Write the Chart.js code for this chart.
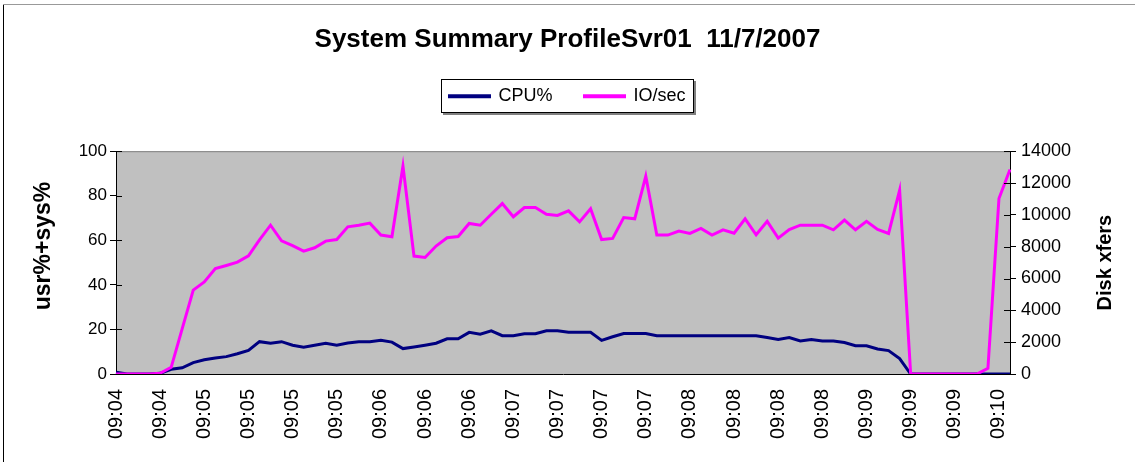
<!DOCTYPE html>
<html>
<head>
<meta charset="utf-8">
<script src="https://cdn.jsdelivr.net/npm/chart.js@4.4.1/dist/chart.umd.min.js"></script>
<style>
  html, body { margin: 0; padding: 0; background: #fff; }
  #caixa { width: 1135px; height: 462px; }
</style>
</head>
<body>
<div id="caixa"><canvas id="grafico"></canvas></div>
<script>
// rotulos do eixo x (um a cada 4 amostras)
const horarios = ['09:04', '09:04', '09:05', '09:05', '09:05', '09:05', '09:06', '09:06', '09:06', '09:07',
  '09:07', '09:07', '09:07', '09:08', '09:08', '09:08', '09:08', '09:09', '09:09', '09:09', '09:10'];

// usr%+sys%
const dadosCpu = [0.8, 0, 0, 0, 0.3, 2.1, 2.8, 5.1, 6.4, 7.2, 7.8, 9.1, 10.6, 14.5, 13.8, 14.5, 12.9, 12.0, 12.9, 13.8,
  12.9, 13.9, 14.5, 14.5, 15.1, 14.3, 11.4, 12.1, 12.9, 13.8, 15.8, 15.8, 18.7, 17.9, 19.4, 17.2, 17.2, 18.1, 18.1, 19.4,
  19.4, 18.7, 18.7, 18.7, 15.1, 16.7, 18.2, 18.2, 18.2, 17.2, 17.2, 17.2, 17.2, 17.2, 17.2, 17.2, 17.2, 17.2, 17.2, 16.4,
  15.5, 16.4, 14.8, 15.5, 14.8, 14.8, 14.1, 12.7, 12.7, 11.2, 10.5, 6.9, 0, 0, 0, 0, 0, 0, 0, 0,
  0, 0];

// Disk xfers
const dadosIo = [0, 0, 0, 0, 50, 420, 2850, 5270, 5780, 6620, 6820, 7030, 7430, 8430, 9350, 8370, 8060, 7720, 7930, 8350,
  8450, 9250, 9350, 9480, 8730, 8620, 13060, 7410, 7320, 8040, 8560, 8640, 9460, 9350, 10040, 10710, 9880, 10460, 10460, 10040,
  9960, 10250, 9560, 10380, 8450, 8520, 9830, 9750, 12430, 8730, 8730, 8980, 8830, 9150, 8730, 9060, 8850, 9750, 8750, 9590,
  8540, 9080, 9350, 9350, 9350, 9060, 9670, 9060, 9590, 9080, 8830, 11550, 0, 0, 0, 0, 0, 0, 0, 360,
  11030, 12850];

const categorias = dadosCpu.map((v, i) => i % 4 === 0 ? horarios[i / 4] : '');

const fonte = "'Liberation Sans', Arial, sans-serif";
Chart.defaults.font.family = fonte;
Chart.defaults.color = '#000';

// espaco extra abaixo da legenda
const espacoLegenda = {
  id: 'espacoLegenda',
  beforeInit(chart) {
    const fitOriginal = chart.legend.fit;
    chart.legend.fit = function () {
      fitOriginal.bind(chart.legend)();
      this.height += 36;
    };
  }
};

function tituloVertical(ctx, texto, x, y, tamanho) {
  ctx.save();
  ctx.translate(x, y);
  ctx.rotate(-Math.PI / 2);
  ctx.font = 'bold ' + tamanho + 'px ' + fonte;
  ctx.fillStyle = '#000';
  ctx.textAlign = 'center';
  ctx.textBaseline = 'middle';
  ctx.fillText(texto, 0, 0);
  ctx.restore();
}

const fundo = {
  id: 'fundo',
  beforeDraw(chart) {
    const { ctx, chartArea: a, legend } = chart;
    ctx.save();
    // moldura externa
    ctx.lineWidth = 1;
    ctx.strokeStyle = '#000';
    ctx.beginPath();
    ctx.moveTo(3.5, 462);
    ctx.lineTo(3.5, 4.5);
    ctx.stroke();
    ctx.strokeStyle = '#999';
    ctx.beginPath();
    ctx.moveTo(3, 4.5);
    ctx.lineTo(1135, 4.5);
    ctx.stroke();

    // area do grafico
    ctx.fillStyle = '#c0c0c0';
    ctx.fillRect(a.left, a.top, a.right - a.left, a.bottom - a.top);
    ctx.strokeStyle = '#808080';
    ctx.beginPath();
    ctx.moveTo(a.left, a.top + 0.5);
    ctx.lineTo(a.right, a.top + 0.5);
    ctx.stroke();

    // caixa da legenda
    const caixas = legend.legendHitBoxes;
    if (caixas.length) {
      const x1 = Math.round(caixas[0].left) - 8;
      const ultima = caixas[caixas.length - 1];
      const x2 = Math.round(ultima.left + ultima.width) + 8;
      const meio = caixas[0].top + caixas[0].height / 2;
      const y1 = Math.round(meio - 17);
      const y2 = Math.round(meio + 17);
      ctx.fillStyle = '#808080';
      ctx.fillRect(x1 + 2, y1 + 2, x2 - x1, y2 - y1);
      ctx.fillStyle = '#fff';
      ctx.fillRect(x1, y1, x2 - x1, y2 - y1);
      ctx.strokeStyle = '#000';
      ctx.strokeRect(x1 + 0.5, y1 + 0.5, x2 - x1 - 1, y2 - y1 - 1);
    }
    ctx.restore();
  },
  afterDraw(chart) {
    const { ctx, chartArea: a, scales } = chart;
    // marcas das escalas cruzando o eixo
    ctx.save();
    ctx.strokeStyle = '#000';
    ctx.lineWidth = 1;
    ctx.beginPath();
    scales.y.ticks.forEach(t => {
      const py = Math.round(scales.y.getPixelForValue(t.value)) + 0.5;
      ctx.moveTo(a.left, py);
      ctx.lineTo(a.left + 6, py);
    });
    scales.y1.ticks.forEach(t => {
      const py = Math.round(scales.y1.getPixelForValue(t.value)) + 0.5;
      ctx.moveTo(a.right - 6, py);
      ctx.lineTo(a.right, py);
    });
    ctx.stroke();
    ctx.restore();

    tituloVertical(ctx, 'usr%+sys%', 44, 246, 23);
    tituloVertical(ctx, 'Disk xfers', 1105, (a.top + a.bottom) / 2, 20);
  }
};

const grafico = new Chart(document.getElementById('grafico'), {
  type: 'line',
  data: {
    labels: categorias,
    datasets: [{
      label: 'CPU%',
      data: dadosCpu,
      borderColor: '#000080',
      backgroundColor: '#000080',
      borderWidth: 3,
      pointRadius: 0,
      tension: 0,
      order: 1,
      yAxisID: 'y'
    }, {
      label: 'IO/sec',
      data: dadosIo,
      borderColor: '#ff00ff',
      backgroundColor: '#ff00ff',
      borderWidth: 3,
      pointRadius: 0,
      tension: 0,
      order: 0,
      yAxisID: 'y1'
    }]
  },
  options: {
    responsive: true,
    maintainAspectRatio: false,
    animation: false,
    layout: { padding: 0 },
    plugins: {
      title: {
        display: true,
        text: 'System Summary ProfileSvr01  11/7/2007',
        font: { size: 26, weight: 'bold' },
        color: '#000',
        padding: { top: 24, bottom: 0 }
      },
      legend: {
        display: true,
        labels: {
          boxWidth: 40,
          boxHeight: 1,
          padding: 32,
          font: { size: 18 },
          color: '#000',
          sort: (a, b) => a.datasetIndex - b.datasetIndex
        }
      },
      tooltip: { enabled: false }
    },
    scales: {
      x: {
        offset: false,
        grid: { display: false, drawTicks: false },
        border: { display: true, color: '#000' },
        ticks: { autoSkip: false, minRotation: 90, maxRotation: 90, padding: 15, font: { size: 20 } },
        afterFit(escala) { escala.height = 88; }
      },
      y: {
        position: 'left',
        min: 0,
        max: 100,
        ticks: { stepSize: 20, padding: 3, font: { size: 17 } },
        grid: { drawOnChartArea: false, tickLength: 6, color: '#000' },
        border: { color: '#000' },
        afterFit(escala) { escala.width = 116; }
      },
      y1: {
        position: 'right',
        min: 0,
        max: 14000,
        ticks: { stepSize: 2000, padding: 5, font: { size: 18 }, callback: v => String(v) },
        grid: { drawOnChartArea: false, tickLength: 6, color: '#000' },
        border: { color: '#000' },
        afterFit(escala) { escala.width = 125; }
      }
    }
  },
  plugins: [espacoLegenda, fundo]
});
</script>
</body>
</html>
